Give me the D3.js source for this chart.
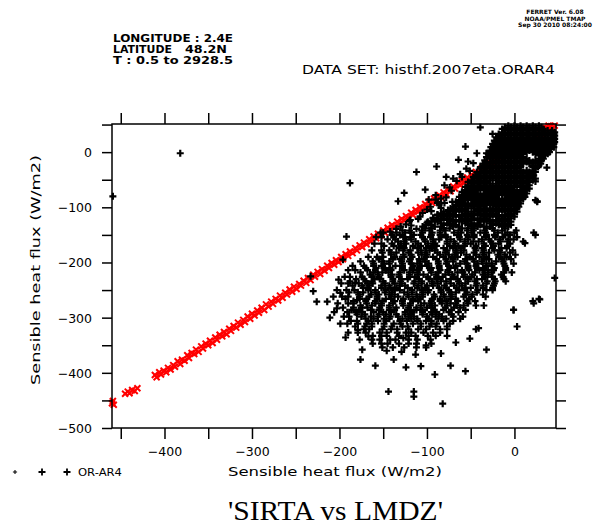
<!DOCTYPE html>
<html>
<head>
<meta charset="utf-8">
<script src="https://cdn.jsdelivr.net/npm/d3@7"></script>
<style>
  body { margin: 0; background: #fff; }
  svg { display: block; }
  text { fill: #000; }
</style>
</head>
<body>
<div id="chart"></div>
<script>
// axis ranges and ticks (W/m2)
const xDomain = [-460, 47.5];
const yDomain = [-500, 51];
const xTicks = [-450, -400, -350, -300, -250, -200, -150, -100, -50, 0];
const xLabels = [-400, -300, -200, -100, 0];
const yTicks = [-500, -450, -400, -350, -300, -250, -200, -150, -100, -50, 0, 50];
const yLabels = [-500, -400, -300, -200, -100, 0];

// LMDZ-like red series, sits on the 1:1 line
const redPoints = [
  [-460,-455],[-459,-451],[-458,-458],
  [-445,-438],[-442,-434],[-440,-437],[-437,-431],[-434,-433],[-431,-428],
  [-411,-404],[-409,-408],[-406,-399],[-404,-403],[-401,-396],[-398,-399],[-396,-391],[-393,-394],
  [-390,-386],[-388,-389],[-385,-379],[-382,-384],[-380,-376],[-377,-378],[-374,-368],[-372,-373],
  [-369,-364],[-366,-366],[-364,-358],[-361,-362],[-358,-352],[-356,-356],[-353,-347],[-350,-350],
  [-348,-342],[-345,-346],[-342,-336],[-340,-340],[-337,-331],[-334,-334],[-332,-326],[-329,-330],
  [-326,-320],[-324,-324],[-321,-315],[-318,-318],[-316,-309],[-313,-313],[-310,-304],[-308,-308],
  [-305,-298],[-302,-302],[-300,-293],[-297,-296],[-294,-287],[-292,-291],[-289,-282],[-286,-286],
  [-284,-276],[-281,-280],[-278,-271],[-276,-275],[-273,-266],[-270,-269],[-268,-260],[-265,-264],
  [-262,-255],[-260,-258],[-257,-249],[-254,-253],[-252,-244],[-249,-248],[-246,-239],[-244,-242],
  [-241,-233],[-238,-237],[-236,-228],[-233,-232],[-230,-222],[-228,-226],[-225,-217],[-222,-221],
  [-220,-212],[-217,-215],[-214,-206],[-212,-210],[-209,-201],[-206,-204],[-204,-196],[-201,-199],
  [-198,-190],[-196,-194],[-193,-185],[-190,-188],[-188,-180],[-185,-183],[-182,-174],[-180,-178],
  [-177,-169],[-174,-172],[-172,-164],[-169,-167],[-166,-158],[-164,-162],[-161,-153],[-158,-156],
  [-156,-148],[-153,-151],[-150,-142],[-148,-146],[-145,-137],[-142,-140],[-140,-132],[-137,-135],
  [-134,-126],[-132,-130],[-129,-121],[-126,-124],[-124,-116],[-121,-119],[-118,-110],[-116,-114],
  [-113,-105],[-110,-108],[-108,-100],[-105,-103],[-102,-94],[-100,-98],[-97,-89],[-94,-92],
  [-92,-84],[-89,-87],[-86,-78],[-84,-82],[-81,-73],[-78,-76],[-76,-68],[-73,-71],
  [-70,-62],[-68,-66],[-65,-57],[-62,-60],[-60,-52],[-57,-55],[-54,-46],[-52,-50],
  [-49,-41],[-46,-44],[-44,-36],[-41,-39],[-38,-30],[-36,-34],[-33,-25],[-30,-28],
  [-28,-20],[-25,-23],[-22,-14],[-20,-18],[-17,-9],[-14,-12],[-10,-5],[-5,0],
  [0,4],[5,9],[10,14],[15,19],[20,23],[25,29],[30,33],[33,38],[36,40],[38,44],
  [40,45],[42,47],[44,43],[46,48],[36,44],[39,48]
];

// SIRTA black series, read as rows of [y, x values]
// solid top-right block
const coreTopRows = [
  [48, [-7, 0, 7, 14, 21, 28]],
  [45, [-11, -4, 3, 10, 17, 24, 31]],
  [42, [-14, -7, 0, 7, 14, 21, 28, 33]],
  [39, [-11, -4, 3, 10, 17, 24, 31, 38, 43]],
  [36, [-14, -7, 0, 7, 14, 21, 28, 35, 42, 46]],
  [33, [-18, -11, -4, 3, 10, 17, 24, 31, 38, 45]],
  [30, [-17, -14, -7, 0, 7, 14, 21, 28, 35, 42, 46]],
  [27, [-21, -18, -11, -4, 3, 10, 17, 24, 31, 38, 45]],
  [24, [-19, -14, -7, 0, 7, 14, 21, 28, 35, 42, 46]],
  [21, [-23, -18, -11, -4, 3, 10, 17, 24, 31, 38, 45]],
  [18, [-21, -14, -7, 0, 7, 14, 21, 28, 35, 42, 46]],
  [15, [-25, -18, -11, -4, 3, 10, 17, 24, 31, 38, 45]],
  [12, [-21, -14, -7, 0, 7, 14, 21, 28, 35, 42]],
  [9, [-27, -25, -18, -11, -4, 3, 10, 17, 24, 31, 38, 45]],
  [6, [-24, -21, -14, -7, 0, 7, 14, 21, 28, 35, 42]],
  [3, [-28, -25, -18, -11, -4, 3, 10, 17, 24, 31, 38]],
  [0, [-28, -21, -14, -7, 0, 7, 14, 21, 28, 35, 40]],
  [-3, [-30, -25, -18, -11, -4, 3, 10, 24, 31, 38]],
  [-6, [-28, -21, -14, -7, 0, 7, 28, 35]],
  [-9, [-32, -25, -18, -11, -4, 3, 10, 31]],
  [-12, [-28, -21, -14, -7, 0, 7, 14, 28, 33]],
  [-15, [-34, -25, -18, -11, -4, 3, 10, 17, 24, 31]],
  [-18, [-31, -28, -21, -14, -7, 0, 7, 14, 21, 28]],
  [-21, [-36, -32, -25, -18, -11, -4, 3, 10, 17, 24, 30]],
  [-24, [-35, -28, -21, -14, -7, 0, 7, 21, 28]]
];

// dense middle of the cloud
const coreRows = [
  [-27, [-39, -35, -28, -21, -14, -7, 0, 7, 21, 27]],
  [-30, [-39, -32, -25, -18, -11, -4, 3, 24]],
  [-33, [-35, -28, -21, -14, -7, 0, 7, 14, 21]],
  [-36, [-43, -39, -32, -25, -18, -11, -4, 3, 10, 17, 24]],
  [-39, [-42, -35, -28, -21, -14, -7, 0, 7, 14, 21]],
  [-42, [-44, -39, -32, -25, -18, -11, -4, 3, 10, 17, 22]],
  [-45, [-47, -42, -35, -28, -21, -14, -7, 0, 7, 14, 21]],
  [-48, [-46, -39, -32, -25, -18, -11, -4, 3, 10, 17, 24]],
  [-51, [-49, -42, -35, -28, -21, -14, -7, 0, 7, 14, 21]],
  [-54, [-53, -46, -39, -32, -18, -11, -4, 3, 10, 17]],
  [-57, [-49, -42, -35, -28, -21, -14, -7, 0, 7, 14]],
  [-60, [-53, -46, -39, -32, -25, -18, -11, -4, 3, 10, 17]],
  [-63, [-56, -49, -42, -35, -28, -21, -14, -7, 0, 7, 14]],
  [-66, [-53, -46, -39, -32, -25, -18, -11, -4, 10, 17]],
  [-69, [-56, -49, -42, -35, -28, -21, -14, -7, 0, 7, 14]],
  [-72, [-60, -53, -46, -32, -25, -18, -11, -4, 3, 10]],
  [-75, [-56, -49, -42, -35, -28, -21, -14, -7, 0, 7, 14]],
  [-78, [-60, -53, -46, -39, -32, -25, -18, -11, -4, 3, 10]],
  [-81, [-63, -56, -49, -42, -35, -28, -21, -7, 0, 7, 12]],
  [-84, [-60, -53, -46, -39, -32, -25, -18, -11, -4, 3, 10]],
  [-87, [-63, -56, -49, -42, -35, -28, -21, -14, -7, 0, 7, 24]],
  [-90, [-67, -60, -46, -39, -32, -25, -18, -11, -4, 3]],
  [-93, [-63, -56, -49, -42, -35, -28, -21, -14, -7, 0, 7]],
  [-96, [-67, -60, -53, -46, -39, -32, -25, -18, -11, -4, 3]],
  [-99, [-70, -63, -56, -49, -42, -35, -21, -14, -7, 0, 5]],
  [-102, [-73, -67, -60, -53, -46, -39, -32, -25, -18, -11, -4, 3]],
  [-105, [-76, -70, -63, -56, -42, -35, -28, -21, -14, -7, 0]],
  [-108, [-81, -74, -67, -60, -53, -46, -39, -32, -25, -18, -11, -4, 3]],
  [-111, [-84, -77, -70, -56, -49, -42, -35, -28, -21, -7, 0]],
  [-114, [-88, -81, -74, -67, -60, -53, -46, -39, -32, -25, -18, -11, -4]],
  [-117, [-84, -77, -70, -63, -56, -49, -35, -28, -21, -14, -7, 0]],
  [-120, [-93, -88, -81, -74, -60, -53, -46, -39, -32, -18, -11, -4]],
  [-123, [-91, -84, -77, -70, -63, -56, -49, -42, -35, -28, -21, -14, -7]],
  [-126, [-99, -95, -88, -74, -67, -60, -53, -39, -32, -25, -18, -11, -4]],
  [-129, [-98, -84, -77, -70, -56, -49, -42, -28, -21, -14, -7]],
  [-132, [-101, -95, -81, -74, -67, -53, -46, -39, -25, -18, -11, -4]],
  [-135, [-105, -91, -84, -70, -63, -49, -42, -35, -28, -14, -7]],
  [-138, [-102, -95, -81, -74, -60, -53, -46, -32, -25, -11]]
];

// lower, more spread part of the cloud
const cloudRows = [
  [-142, [-128, -120, -106, -97, -85, -79, -64, -54, -47, -34, -23, -14, 2]],
  [-146, [-150, -135, -125, -118, -105, -94, -85, -69, -61, -49, -39, -33, -19, -8, 0, 22]],
  [-150, [-140, -131, -115, -107, -95, -85, -79, -65, -54, -46, -32, -23, -11, -5]],
  [-154, [-158, -152, -138, -127, -119, -105, -96, -84, -78, -63, -53, -46, -33, -22, -13, 3]],
  [-158, [-145, -136, -124, -118, -103, -93, -86, -73, -62, -53, -37, -29, -17, -7, -1]],
  [-162, [-133, -126, -113, -102, -93, -77, -69, -57, -47, -41, -27, -16, -8, 10]],
  [-166, [-160, -152, -140, -130, -124, -110, -99, -91, -77, -68, -56, -50, -35, -25, -18, -5]],
  [-170, [-149, -138, -130, -116, -107, -95, -89, -74, -64, -57, -44, -33, -24, -8]],
  [-174, [-132, -126, -111, -101, -94, -81, -70, -61, -45, -37, -25, -15, -9]],
  [-178, [-163, -152, -143, -127, -119, -107, -97, -91, -77, -66, -58, -44, -35, -23, -17, -2]],
  [-182, [-151, -141, -135, -121, -110, -102, -88, -79, -67, -61, -46, -36, -29, -16, -5]],
  [-186, [-141, -127, -118, -106, -100, -85, -75, -68, -55, -44, -35, -19, -11, 1]],
  [-190, [-167, -157, -150, -137, -126, -117, -101, -93, -81, -71, -65, -51, -40, -32, -18, -9]],
  [-194, [-155, -139, -131, -119, -109, -103, -89, -78, -70, -56, -47, -35, -29, -14, -4]],
  [-198, [-176, -162, -151, -143, -129, -120, -108, -102, -87, -77, -70, -57, -46, -37, -21, -13]],
  [-202, [-161, -149, -143, -128, -118, -111, -98, -87, -78, -62, -54, -42, -32, -26, -12, -1]],
  [-206, [-185, -172, -161, -152, -136, -128, -116, -106, -100, -86, -75, -67, -53, -44, -32, -26, -11]],
  [-210, [-170, -158, -148, -142, -128, -117, -109, -95, -86, -74, -68, -53, -43, -36, -23, -10]],
  [-214, [-190, -182, -168, -159, -147, -141, -126, -116, -109, -96, -85, -76, -60, -52, -40, -30, -24, -10]],
  [-218, [-176, -161, -151, -144, -131, -120, -111, -95, -87, -75, -65, -59, -45, -34, -26, -12, -3]],
  [-222, [-165, -156, -140, -132, -120, -110, -104, -90, -79, -71, -57, -48, -36, -30, -15]],
  [-226, [-194, -188, -174, -163, -155, -141, -132, -120, -114, -99, -89, -82, -69, -58, -49, -33, -25, -13]],
  [-230, [-181, -172, -160, -154, -139, -129, -122, -109, -98, -89, -73, -65, -53, -43, -37, -23, -12]],
  [-234, [-170, -163, -150, -139, -130, -114, -106, -94, -84, -78, -64, -53, -45, -31, -22, -10]],
  [-238, [-198, -190, -178, -168, -162, -148, -137, -129, -115, -106, -94, -88, -73, -63, -56, -43, -32, -23]],
  [-242, [-185, -174, -166, -152, -143, -131, -125, -110, -100, -93, -80, -69, -60, -44, -36, -24]],
  [-246, [-173, -167, -152, -142, -135, -122, -111, -102, -86, -78, -66, -56, -50, -36, -25]],
  [-250, [-203, -192, -183, -167, -159, -147, -137, -131, -117, -106, -98, -84, -75, -63, -57, -42, -32, -25]],
  [-254, [-189, -179, -173, -159, -148, -140, -126, -117, -105, -99, -84, -74, -67, -54, -43]],
  [-258, [-178, -164, -155, -143, -137, -122, -112, -105, -92, -81, -72, -56, -48, -36]],
  [-262, [-207, -197, -190, -177, -166, -157, -141, -133, -121, -111, -105, -91, -80, -72, -58, -49, -33]],
  [-266, [-193, -177, -169, -157, -147, -141, -127, -116, -108, -94, -85, -73, -67, -52, 28]],
  [-270, [-184, -170, -159, -151, -137, -128, -116, -110, -95, -85, -78, -65, -54, -45, 21]],
  [-274, [-202, -190, -184, -169, -159, -152, -139, -128, -119, -103, -95, -83, -73, -67, -53]],
  [-278, [-176, -163, -152, -143, -127, -119, -107, -97, -91, -77, -66, -58, -44, -35]],
  [-282, [-196, -184, -174, -168, -154, -143, -135, -121, -112, -100, -94, -79, -69, -62]],
  [-286, [-186, -178, -164, -155, -143, -137, -122, -112, -105, -92, -81, -72, -56, -1]],
  [-290, [-206, -191, -181, -174, -161, -150, -141, -125, -117, -105, -95, -89, -75, -64]],
  [-294, [-180, -171, -155, -147, -135, -125, -119, -105, -94, -86, -72]],
  [-298, [-195, -189, -175, -164, -156, -142, -133, -121, -115, -100, -90, -83, -70, -59]],
  [-302, [-170, -161, -149, -143, -128, -118, -111, -98, -87, -78, -62]],
  [-306, [-187, -180, -167, -156, -147, -131, -123, -111, -101, -95, -81, -70]],
  [-311, [-199, -191, -179, -169, -163, -149, -138, -130, -116, -107, -95, -89, -74]],
  [-316, [-182, -171, -163, -149, -140, -128, -122, -107, -97, -90, -77]],
  [-321, [-172, -166, -151, -141, -134, -121, -110, -101, -85, -77, -44]],
  [-327, [-190, -179, -170, -154, -146, -134, -124, -118, -104, -93, -85]],
  [-333, [-162, -152, -146, -132, -121, -113, -99, -90, -77]],
  [-340, [-177, -163, -154, -142, -136, -121, -111, -96]],
  [-347, [-162, -152, -145, -132, -121, -112, -95]],
  [-354, [-151, -139, -126, -112, -101]]
];

// loose points between the red line and the dense core
const edgePoints = [
  [-105,-110],[-95,-107],[-88,-113],[-120,-125],[-110,-121],[-100,-128],[-130,-135],[-118,-133],
  [-112,-139],[-90,-86],[-80,-92],[-96,-99],[-84,-101],[-78,-82],[-74,-64],[-66,-52],
  [-60,-45],[-55,-30],[-47,-20],[-108,-117],[-124,-131],[-135,-139],[-93,-119],[-86,-95],
  [-71,-90],[-100,-104]
];

// isolated black points
const scatterPoints = [
  [-459,-80],[-382,-2],[-188,-56],[46,-228],[-39,45],[-25,33],[-56,10],[-43,-2],
  [-64,-14],[-53,-17],[-89,-26],[-112,-36],[-126,-74],[-133,-89],[-102,-68],[-32,-2],
  [26,-89],[24,-53],[37,-28],[-51,-34],[-39,-47],[-196,-195],[-153,-146],[-142,-144],
  [-119,-123],[-88,-92],[-233,-225],[-192,-153],[-211,-300],[-193,-336],[-226,-271],[-214,-271],
  [-230,-252],[-201,-231],[-199,-255],[-203,-283],[-188,-234],[-182,-237],[-180,-268],[-179,-322],
  [-174,-358],[-176,-376],[-167,-334],[-159,-387],[-144,-434],[-138,-376],[-127,-337],[-115,-434],
  [-115,-443],[-113,-367],[-82,-456],[-73,-387],[-56,-397],[-91,-403],[-32,-358],[-41,-319],
  [-1,-286],[3,-316],[22,-274],[29,-267],[24,-150],[12,-165],[26,-90],[-80,-60],
  [-72,-70],[-90,-78],[-98,-86],[-84,-84],[-70,-48],[-62,-40],[-78,-45],[-146,-360],
  [-129,-362],[-101,-350],[-84,-365],[-124,-390],[-107,-388],[-67,-345],[-51,-338]
];

const blackPoints = [];
coreTopRows.concat(coreRows, cloudRows)
  .forEach(([yv, xs]) => xs.forEach(xv => blackPoints.push([xv, yv])));
edgePoints.concat(scatterPoints).forEach(p => blackPoints.push(p));

const width = 607, height = 528;
const sans = "DejaVu Sans, sans-serif";
const svg = d3.select("#chart").append("svg")
  .attr("width", width)
  .attr("height", height)
  .style("font-family", sans);

const x = d3.scaleLinear().domain(xDomain).range([112, 556]);
const y = d3.scaleLinear().domain(yDomain).range([428, 124]);

const plus = "M-3.5,0H3.5M0,-3.5V3.5";
const cross = "M-3,-3L3,3M-3,3L3,-3";
const fmt = d => d === 0 ? "0" : "\u2212" + Math.abs(d);

// red first, black on top
svg.append("g").selectAll("path")
  .data(redPoints)
  .enter().append("path")
  .attr("d", cross)
  .attr("transform", d => `translate(${x(d[0])},${y(d[1])})`)
  .attr("stroke", "#ff0000")
  .attr("stroke-width", 2)
  .attr("fill", "none");

svg.append("g").selectAll("path")
  .data(blackPoints)
  .enter().append("path")
  .attr("d", plus)
  .attr("transform", d => `translate(${x(d[0])},${y(d[1])})`)
  .attr("stroke", "#000")
  .attr("stroke-width", 2.2)
  .attr("fill", "none");

// frame
svg.append("rect")
  .attr("x", 112).attr("y", 124)
  .attr("width", 444).attr("height", 304)
  .attr("fill", "none")
  .attr("stroke", "#000")
  .attr("stroke-width", 1.5);

function styleAxis(g) {
  g.select(".domain").remove();
  g.selectAll("line").attr("stroke", "#000").attr("stroke-width", 1.5);
  g.attr("font-family", null).attr("font-size", null);
  g.selectAll("text").attr("font-size", 12.5).attr("fill", "#000");
}

svg.append("g")
  .attr("transform", "translate(0,428)")
  .call(d3.axisBottom(x).tickValues(xTicks).tickSize(11).tickSizeOuter(0)
    .tickFormat(d => xLabels.includes(d) ? fmt(d) : ""))
  .call(styleAxis)
  .call(g => g.selectAll("text").attr("y", 28).attr("dy", 0));

svg.append("g")
  .attr("transform", "translate(0,124)")
  .call(d3.axisTop(x).tickValues(xTicks).tickSize(11).tickSizeOuter(0).tickFormat(""))
  .call(styleAxis);

svg.append("g")
  .attr("transform", "translate(112,0)")
  .call(d3.axisLeft(y).tickValues(yTicks).tickSize(10).tickSizeOuter(0)
    .tickFormat(d => yLabels.includes(d) ? fmt(d) : ""))
  .call(styleAxis)
  .call(g => g.selectAll("text").attr("x", -20).attr("dy", "0.36em"));

svg.append("g")
  .attr("transform", "translate(556,0)")
  .call(d3.axisRight(y).tickValues(yTicks).tickSize(10).tickSizeOuter(0).tickFormat(""))
  .call(styleAxis);

// axis titles
svg.append("text")
  .attr("x", 228).attr("y", 476)
  .attr("font-size", 13)
  .attr("textLength", 214).attr("lengthAdjust", "spacingAndGlyphs")
  .text("Sensible heat flux (W/m2)");

svg.append("text")
  .attr("transform", "translate(40,385) rotate(-90)")
  .attr("font-size", 13)
  .attr("textLength", 230).attr("lengthAdjust", "spacingAndGlyphs")
  .text("Sensible heat flux (W/m2)");

// header
const header = svg.append("g").attr("font-size", 10.5).attr("font-weight", "bold");
header.append("text").attr("x", 113).attr("y", 42).attr("textLength", 120)
  .attr("lengthAdjust", "spacingAndGlyphs").text("LONGITUDE : 2.4E");
header.append("text").attr("x", 113).attr("y", 52.5).attr("textLength", 59)
  .attr("lengthAdjust", "spacingAndGlyphs").text("LATITUDE");
header.append("text").attr("x", 185).attr("y", 52.5).attr("textLength", 42)
  .attr("lengthAdjust", "spacingAndGlyphs").text("48.2N");
header.append("text").attr("x", 113).attr("y", 63.5).attr("textLength", 120)
  .attr("lengthAdjust", "spacingAndGlyphs").text("T : 0.5 to 2928.5");

svg.append("text")
  .attr("x", 302).attr("y", 73.5)
  .attr("font-size", 13)
  .attr("textLength", 253).attr("lengthAdjust", "spacingAndGlyphs")
  .text("DATA SET: histhf.2007eta.ORAR4");

const stamp = svg.append("g").attr("font-size", 6).attr("font-weight", "bold").attr("text-anchor", "middle");
stamp.append("text").attr("x", 555).attr("y", 14).text("FERRET Ver. 6.08");
stamp.append("text").attr("x", 555).attr("y", 20.5).text("NOAA/PMEL TMAP");
stamp.append("text").attr("x", 555).attr("y", 27).text("Sep 30 2010 08:24:00");

// legend
const legendMarks = [[15, 472, 0.6], [42, 472, 1], [67, 472, 1]];
svg.append("g").selectAll("path")
  .data(legendMarks)
  .enter().append("path")
  .attr("d", plus)
  .attr("transform", d => `translate(${d[0]},${d[1]}) scale(${d[2]})`)
  .attr("stroke", "#000")
  .attr("stroke-width", 1.8)
  .attr("fill", "none");
svg.append("text")
  .attr("x", 78).attr("y", 476)
  .attr("font-size", 10)
  .attr("textLength", 44).attr("lengthAdjust", "spacingAndGlyphs")
  .text("OR-AR4");

// title
svg.append("text")
  .attr("x", 228).attr("y", 520)
  .style("font-family", "Liberation Serif, serif")
  .attr("font-size", 27)
  .attr("textLength", 215).attr("lengthAdjust", "spacingAndGlyphs")
  .text("'SIRTA vs LMDZ'");
</script>
</body>
</html>
